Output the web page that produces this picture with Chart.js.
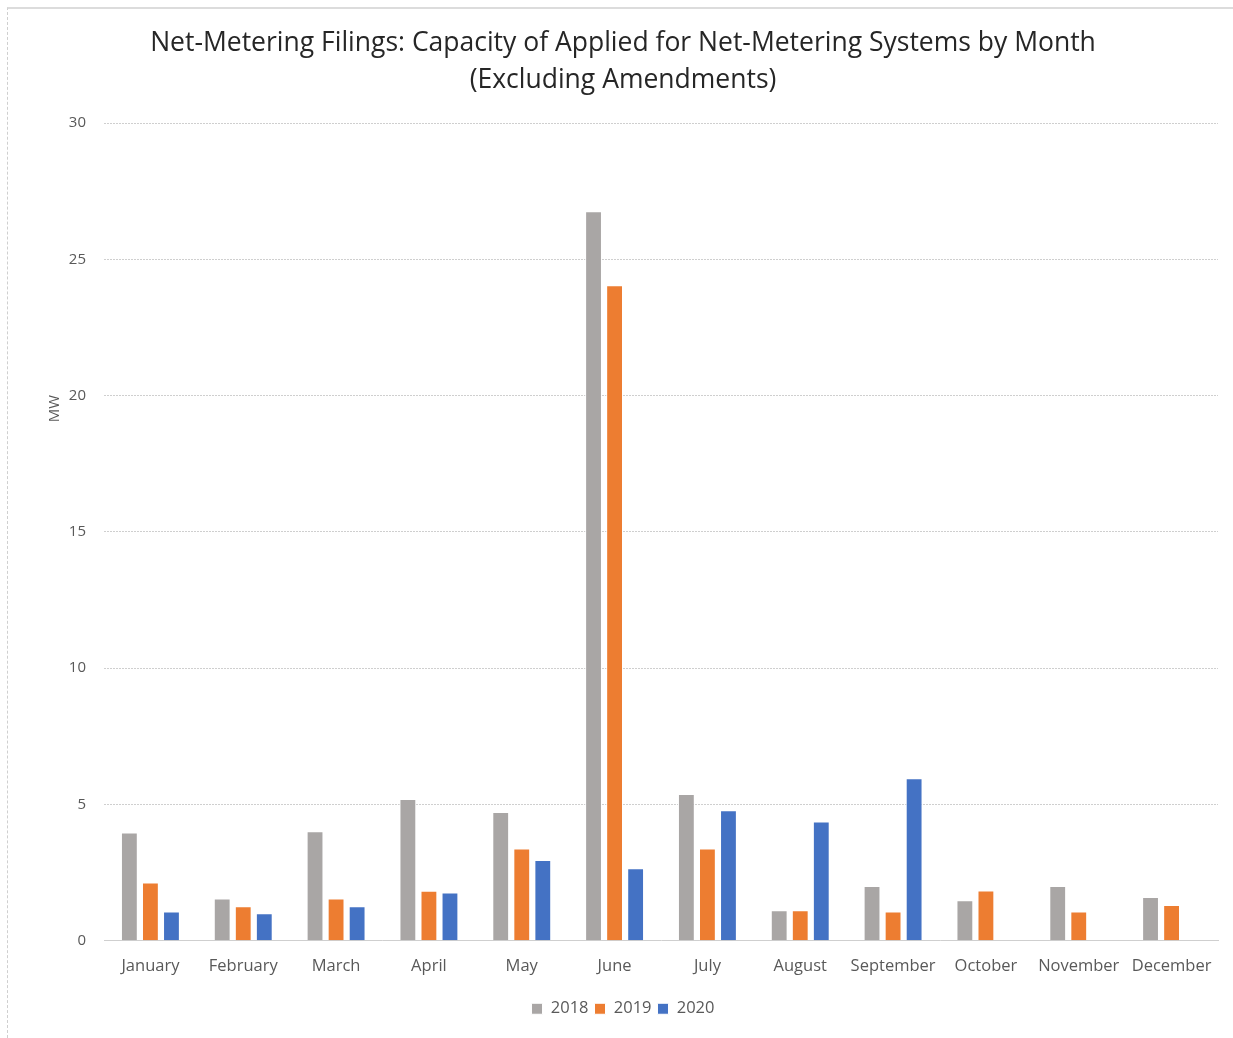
<!DOCTYPE html>
<html>
<head>
<meta charset="utf-8">
<script src="https://cdn.jsdelivr.net/npm/chart.js@4/dist/chart.umd.min.js"></script>
<style>
  body { margin: 0; background: #fff; }
  #wrap { position: relative; width: 1233px; height: 1038px; }
  #frame {
    position: absolute; left: 7px; top: 7px; right: 0; bottom: 0;
    border-top: 2px solid #dcdcdc; border-left: 1px dashed #cfcfcf;
    pointer-events: none;
  }
</style>
</head>
<body>
<div id="wrap">
  <canvas id="netMeteringChart" width="1233" height="1038"></canvas>
  <div id="frame"></div>
</div>
<script>
// months along the x axis
const months = ['January', 'February', 'March', 'April', 'May', 'June',
  'July', 'August', 'September', 'October', 'November', 'December'];

// MW per month
const mw2018 = [3.97, 1.55, 4.02, 5.2, 4.72, 26.77, 5.38, 1.12, 2.01, 1.48, 2.01, 1.6];
const mw2019 = [2.14, 1.26, 1.55, 1.83, 3.38, 24.05, 3.38, 1.12, 1.07, 1.84, 1.07, 1.31];
const mw2020 = [1.07, 1.01, 1.26, 1.77, 2.96, 2.66, 4.79, 4.37, 5.96, null, null, null];

const yTicks = [0, 5, 10, 15, 20, 25, 30];

const fontFamily = "'Open Sans', 'Noto Sans', sans-serif";
const tickColor = '#595959';
const gridColor = '#cfcfcf';

// the "MW" axis title sits above the middle of the axis, like in Excel
const yTitlePlugin = {
  id: 'yTitle',
  afterDraw(chart) {
    const { ctx, chartArea } = chart;
    ctx.save();
    ctx.translate(55, chartArea.top + chartArea.height * 0.349);
    ctx.rotate(-Math.PI / 2);
    ctx.fillStyle = tickColor;
    ctx.font = '15px ' + fontFamily;
    ctx.textAlign = 'center';
    ctx.textBaseline = 'middle';
    ctx.fillText('MW', 0, 0);
    ctx.restore();
  },
};

const ctx = document.getElementById('netMeteringChart');
new Chart(ctx, {
  type: 'bar',
  data: {
    labels: months,
    datasets: [
      { label: '2018', data: mw2018, backgroundColor: '#a9a6a5', borderColor: '#ffffff', borderWidth: 1 },
      { label: '2019', data: mw2019, backgroundColor: '#ed7d31', borderColor: '#ffffff', borderWidth: 1 },
      { label: '2020', data: mw2020, backgroundColor: '#4472c4', borderColor: '#ffffff', borderWidth: 1 },
    ],
  },
  plugins: [yTitlePlugin],
  options: {
    responsive: false,
    animation: false,
    datasets: {
      bar: { categoryPercentage: 0.68, barPercentage: 0.8 },
    },
    layout: { padding: { left: 28, right: 15, top: 0, bottom: 11 } },
    plugins: {
      title: {
        display: true,
        text: ['Net-Metering Filings: Capacity of Applied for Net-Metering Systems by Month',
               '(Excluding Amendments)'],
        color: '#262626',
        font: { family: fontFamily, size: 26.5, weight: 'normal', lineHeight: 1.4 },
        padding: { top: 25, bottom: 24 },
      },
      legend: {
        position: 'bottom',
        labels: {
          color: tickColor,
          font: { family: fontFamily, size: 16.5 },
          boxWidth: 11,
          boxHeight: 11,
          padding: 6,
        },
      },
      tooltip: { enabled: false },
    },
    scales: {
      x: {
        afterFit: (axis) => { axis.height += 10; },
        grid: { display: false },
        border: { color: gridColor, dash: [2, 1] },
        ticks: { color: tickColor, font: { family: fontFamily, size: 16.5 }, padding: 8, maxRotation: 0 },
      },
      y: {
        min: 0,
        max: 30,
        afterBuildTicks: (axis) => { axis.ticks = yTicks.map(v => ({ value: v })); },
        afterFit: (axis) => { axis.width = 76; },
        grid: { color: gridColor, drawTicks: false },
        border: { display: false, dash: [2, 1] },
        ticks: { color: tickColor, font: { family: fontFamily, size: 15 }, padding: 18 },
      },
    },
  },
});
</script>
</body>
</html>
